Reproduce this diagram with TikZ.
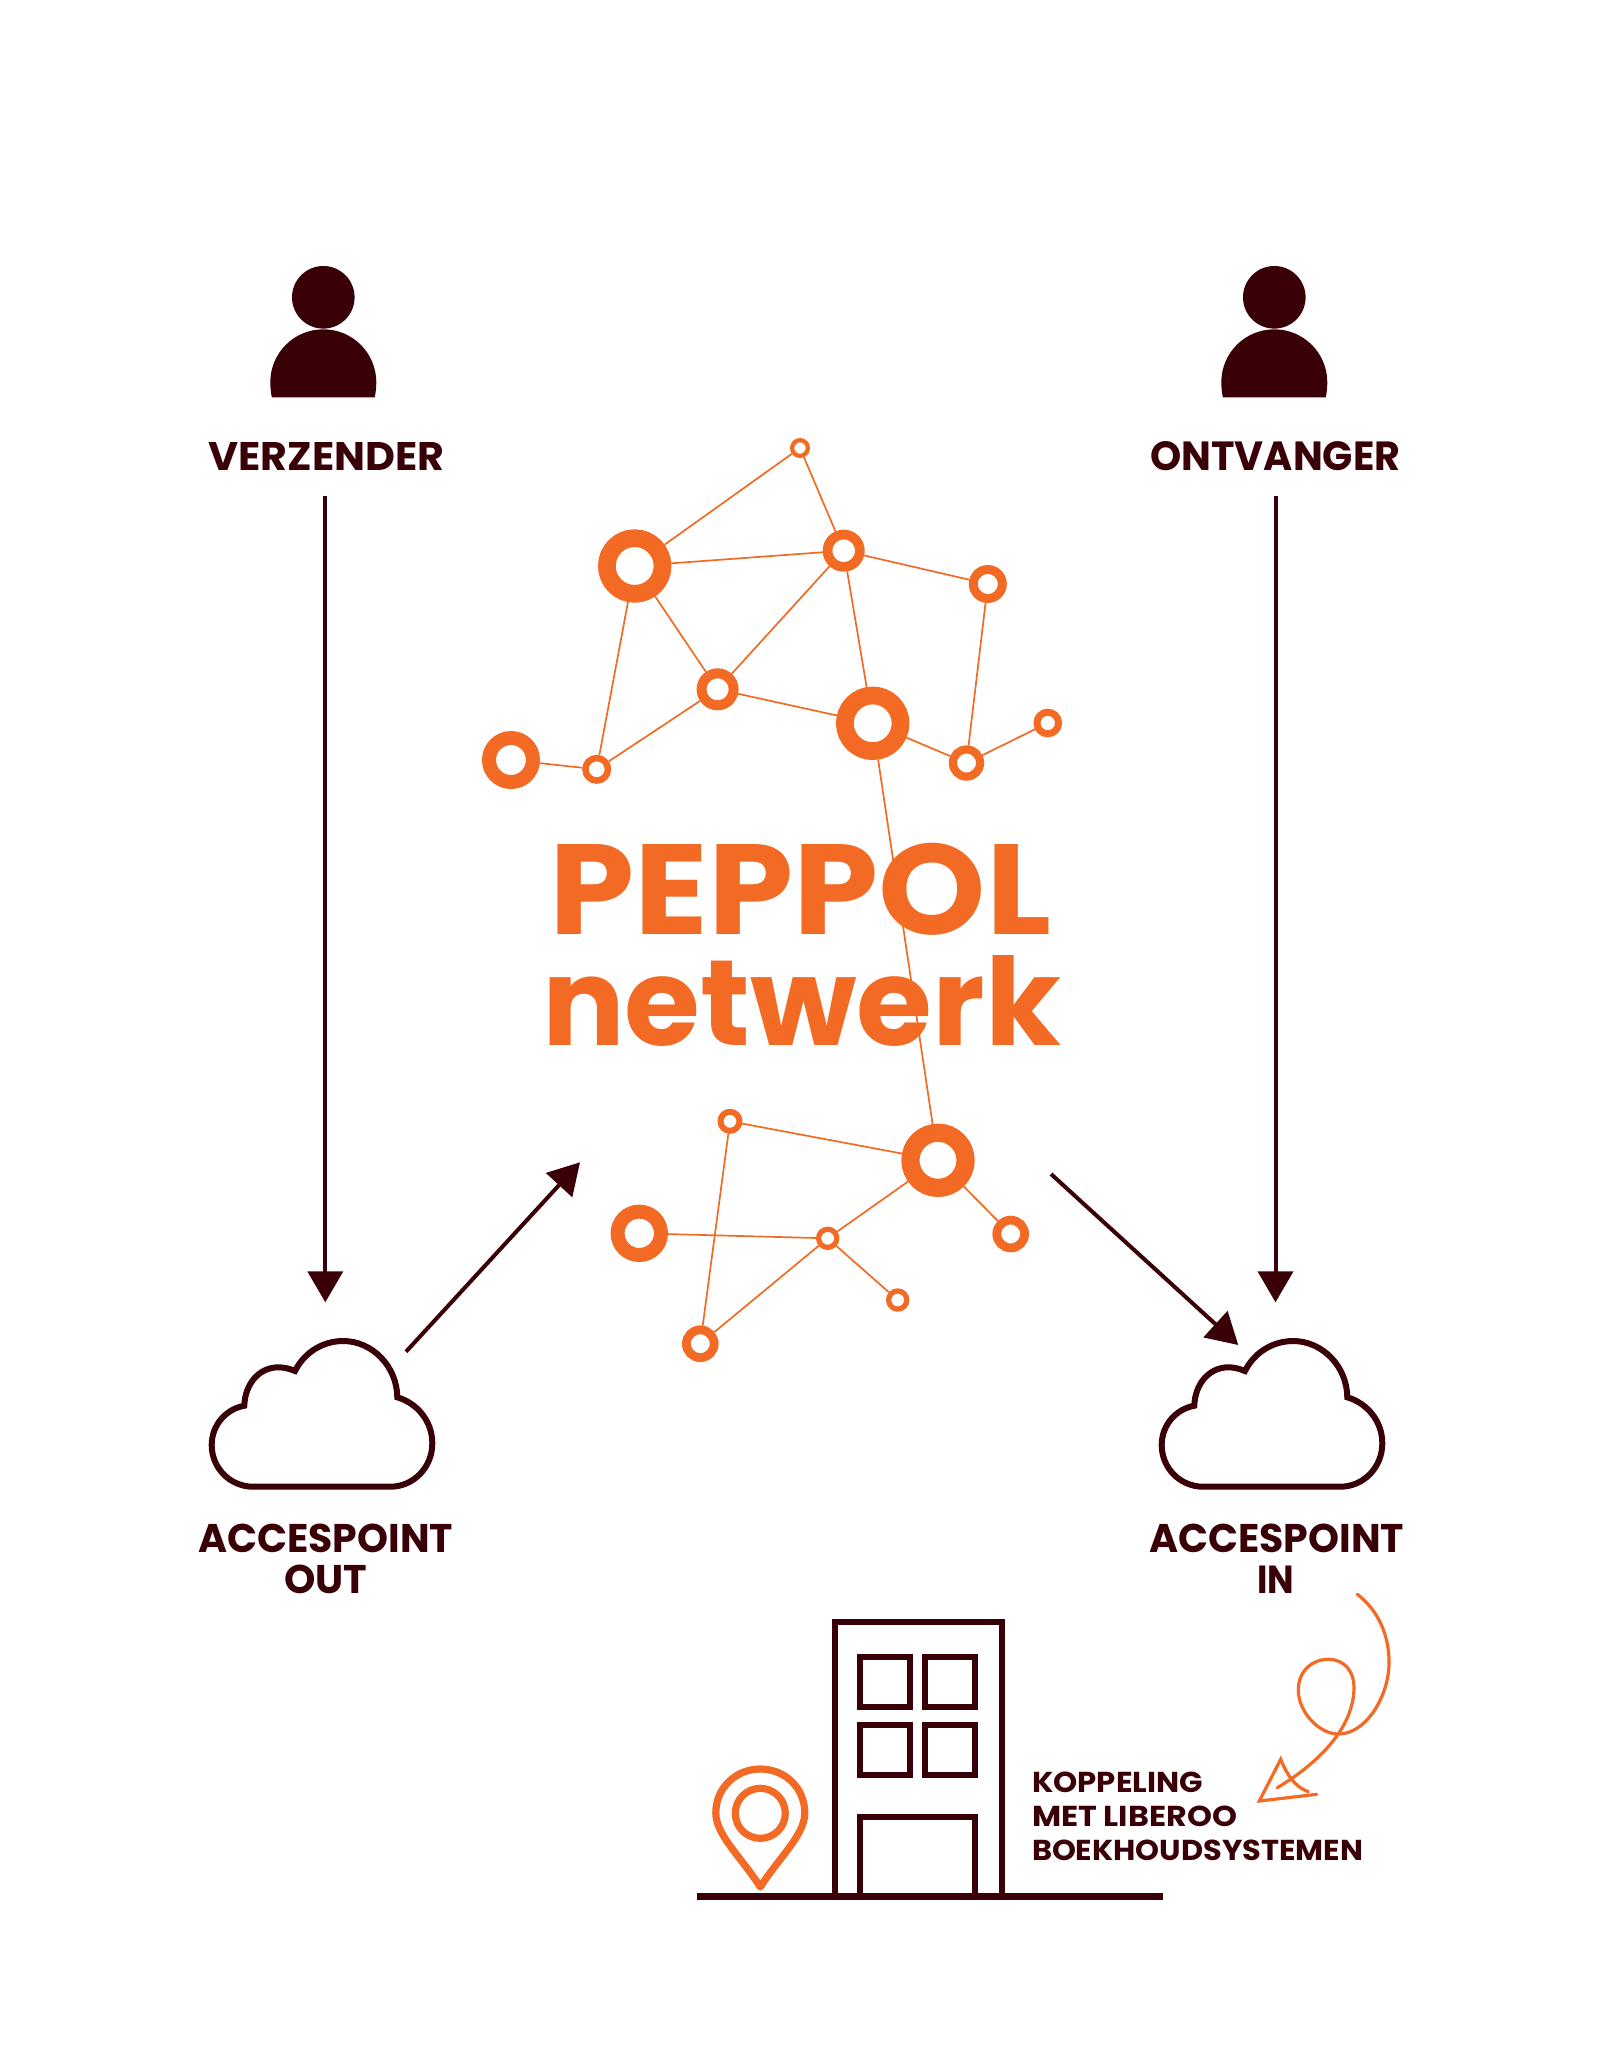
\documentclass[tikz,border=0pt]{standalone}
\usepackage{fontspec}
\usepackage{graphicx}
\setmainfont{Poppins}
\usetikzlibrary{arrows.meta}
\definecolor{peporange}{HTML}{F36A24}
\definecolor{pepdark}{HTML}{3A0007}
\newcommand{\fitbox}[3]{\resizebox{\dimexpr #1pt/2\relax}{\dimexpr #2pt/2\relax}{\fontsize{30pt}{30pt}\selectfont\bfseries #3}}
\tikzset{
  ring/.style args={#1/#2}{circle, draw=peporange, fill=white, inner sep=0pt,
    minimum size={(#1+#2)*0.5pt}, line width={(#1-#2)*0.5pt}},
  edgeline/.style={draw=peporange, line width=0.85pt},
  flowarrow/.style={draw=pepdark, line width=2pt, -{Triangle[length=15.5pt,width=17.5pt]}},
  darkline/.style={draw=pepdark, line width=3.2pt, line join=miter},
  pinline/.style={draw=peporange, line width=3.6pt, line join=round},
  scribble/.style={draw=peporange, line width=1.6pt, line cap=round, line join=miter},
  lbl/.style={inner sep=0pt, outer sep=0pt, text=pepdark, anchor=base west},
  lblc/.style={inner sep=0pt, outer sep=0pt, text=peporange, anchor=base west},
}
\newcommand{\personicon}{%
  \fill[pepdark] (323.3,297.3) circle [radius=31.3];
  \fill[pepdark] (271.8,397.3) .. controls (270.8,392) and (270.3,387) .. (270.3,382.3)
    .. controls (270.3,353) and (294,329.3) .. (323.3,329.3)
    .. controls (352.6,329.3) and (376.3,353) .. (376.3,382.3)
    .. controls (376.3,387) and (375.8,392) .. (374.8,397.3) -- cycle;
}
\newcommand{\cloudicon}{%
  \draw[draw=pepdark, line width=3pt, line join=miter, miter limit=4]
    (253.3,1486.7) -- (390,1486.7)
    .. controls (414,1486.7) and (432.3,1467) .. (432.3,1443.3)
    .. controls (432.3,1421) and (417,1403) .. (397.3,1397.3)
    .. controls (397,1366) and (372,1341) .. (343.3,1341)
    .. controls (322,1341) and (304,1353) .. (295,1371)
    .. controls (289,1368.5) and (284,1367.3) .. (278.3,1367.3)
    .. controls (259,1367.3) and (245,1384) .. (244.3,1405.7)
    .. controls (226,1409) and (211.7,1425) .. (211.7,1445)
    .. controls (211.7,1468) and (230,1486.7) .. (253.3,1486.7) -- cycle;
}
\begin{document}
\begin{tikzpicture}[x=0.5pt,y=-0.5pt]
\useasboundingbox (0,0) rectangle (1604,2063);
\fill[white] (0,0) rectangle (1604,2063);

% people
\personicon
\begin{scope}[shift={(951,0)}]\personicon\end{scope}
\node[lbl] (verzender) at (208.5,470) {\fitbox{236}{28}{VERZENDER}};
\node[lbl] (ontvanger) at (1150.5,470) {\fitbox{250}{29}{ONTVANGER}};

% clouds
\cloudicon
\begin{scope}[shift={(950,0)}]\cloudicon\end{scope}
\node[lbl] (apout1) at (198,1552.5) {\fitbox{255}{28.5}{ACCESPOINT}};
\node[lbl] (apout2) at (284,1593.5) {\fitbox{83}{28.5}{OUT}};
\node[lbl] (apin1) at (1149,1552.5) {\fitbox{255}{28.5}{ACCESPOINT}};
\node[lbl] (apin2) at (1257.5,1593.5) {\fitbox{37}{27.5}{IN}};

% network nodes
\node[ring=36.7/19]   (n2) at (634.7,566) {};
\node[ring=10/5.7]    (n1) at (800,448) {};
\node[ring=21/11.3]   (n3) at (843.7,550.7) {};
\node[ring=19/10]     (n4) at (987.8,584) {};
\node[ring=21/11]     (n5) at (717.6,689.3) {};
\node[ring=36.7/19]   (n6) at (872.7,723.3) {};
\node[ring=29/15]     (n7) at (511,760) {};
\node[ring=14.5/8]    (n8) at (596.7,769.3) {};
\node[ring=17.7/9.5]  (n9) at (966.5,763) {};
\node[ring=14.3/7.3]  (n10) at (1047.8,723) {};
\node[ring=36.7/18.5] (m1) at (938,1160.3) {};
\node[ring=12.5/6.5]  (m2) at (730,1121.3) {};
\node[ring=28.7/14.7] (m3) at (639.3,1233.3) {};
\node[ring=11.7/6.5]  (m4) at (827.7,1238.3) {};
\node[ring=18.3/9.5]  (m5) at (1010.7,1234) {};
\node[ring=11.7/6.5]  (m6) at (897.7,1300) {};
\node[ring=18.3/9.5]  (m7) at (700.3,1343.7) {};

\foreach \a/\b in {n1/n2,n1/n3,n2/n3,n3/n4,n3/n5,n3/n6,n2/n5,n2/n8,n5/n8,n5/n6,n7/n8,n4/n9,n6/n9,n9/n10,n6/m1,m1/m2,m2/m7,m3/m4,m4/m1,m4/m7,m4/m6,m1/m5}
  \draw[edgeline] (\a) -- (\b);

% title
\node[lblc] (peppol) at (549.4,934) {\fitbox{502}{91.3}{PEPPOL}};
\node[lblc] (netwerk) at (542,1045.7) {\fitbox{519}{90}{netwerk}};

% flow arrows
\coordinate (a1s) at (325.3,496);
\coordinate (a1e) at (325.3,1302.3);
\coordinate (a2s) at (1275.5,496);
\coordinate (a2e) at (1275.5,1302.3);
\coordinate (a3s) at (406,1351.7);
\coordinate (a3e) at (580,1162.3);
\coordinate (a4s) at (1051,1174);
\coordinate (a4e) at (1238.3,1345);
\draw[flowarrow] (a1s) -- (a1e);
\draw[flowarrow] (a2s) -- (a2e);
\draw[flowarrow] (a3s) -- (a3e);
\draw[flowarrow] (a4s) -- (a4e);

% building
\draw[darkline] (834.8,1896) -- (834.8,1622) -- (1002.2,1622) -- (1002.2,1896);
\draw[darkline] (859.8,1657) rectangle (910.2,1707);
\draw[darkline] (925,1657) rectangle (975,1707);
\draw[darkline] (859.8,1724.7) rectangle (910.2,1774.7);
\draw[darkline] (925,1724.7) rectangle (975,1774.7);
\draw[darkline] (859.8,1896) -- (859.8,1817) -- (975,1817) -- (975,1896);
\draw[darkline] (697.4,1896.3) -- (1163,1896.3);

% pin
\draw[pinline] (760.3,1887) .. controls (742,1858) and (715.8,1835) .. (715.8,1813)
  .. controls (715.8,1788) and (735.5,1769) .. (760.3,1769)
  .. controls (785.1,1769) and (804.8,1788) .. (804.8,1813)
  .. controls (804.8,1835) and (778.6,1858) .. (760.3,1887) -- cycle;
\draw[pinline] (760.3,1813.3) circle [radius=25];

% label koppeling
\node[lbl] (k1) at (1032,1792.3) {\fitbox{171}{20.5}{KOPPELING}};
\node[lbl] (k2) at (1032,1826.3) {\fitbox{205}{20.5}{MET LIBEROO}};
\node[lbl] (k3) at (1032,1860.3) {\fitbox{331}{20.5}{BOEKHOUDSYSTEMEN}};

% hand-drawn arrow
\draw[scribble] (1357.3,1594.3) .. controls (1378,1610) and (1390,1636) .. (1389,1665)
  .. controls (1388,1697) and (1366,1734) .. (1338.3,1734)
  .. controls (1319,1734) and (1298.3,1712) .. (1298.3,1690)
  .. controls (1298.3,1671) and (1312,1659.3) .. (1328.3,1659.3)
  .. controls (1345,1659.3) and (1354,1672) .. (1354,1687)
  .. controls (1354,1730) and (1315,1765) .. (1277.3,1787.7);
\draw[scribble] (1308.3,1791.7) .. controls (1295,1787) and (1287,1775) .. (1280.7,1759.3)
  -- (1259.3,1801) -- (1316.7,1794.3);
\end{tikzpicture}
\end{document}
